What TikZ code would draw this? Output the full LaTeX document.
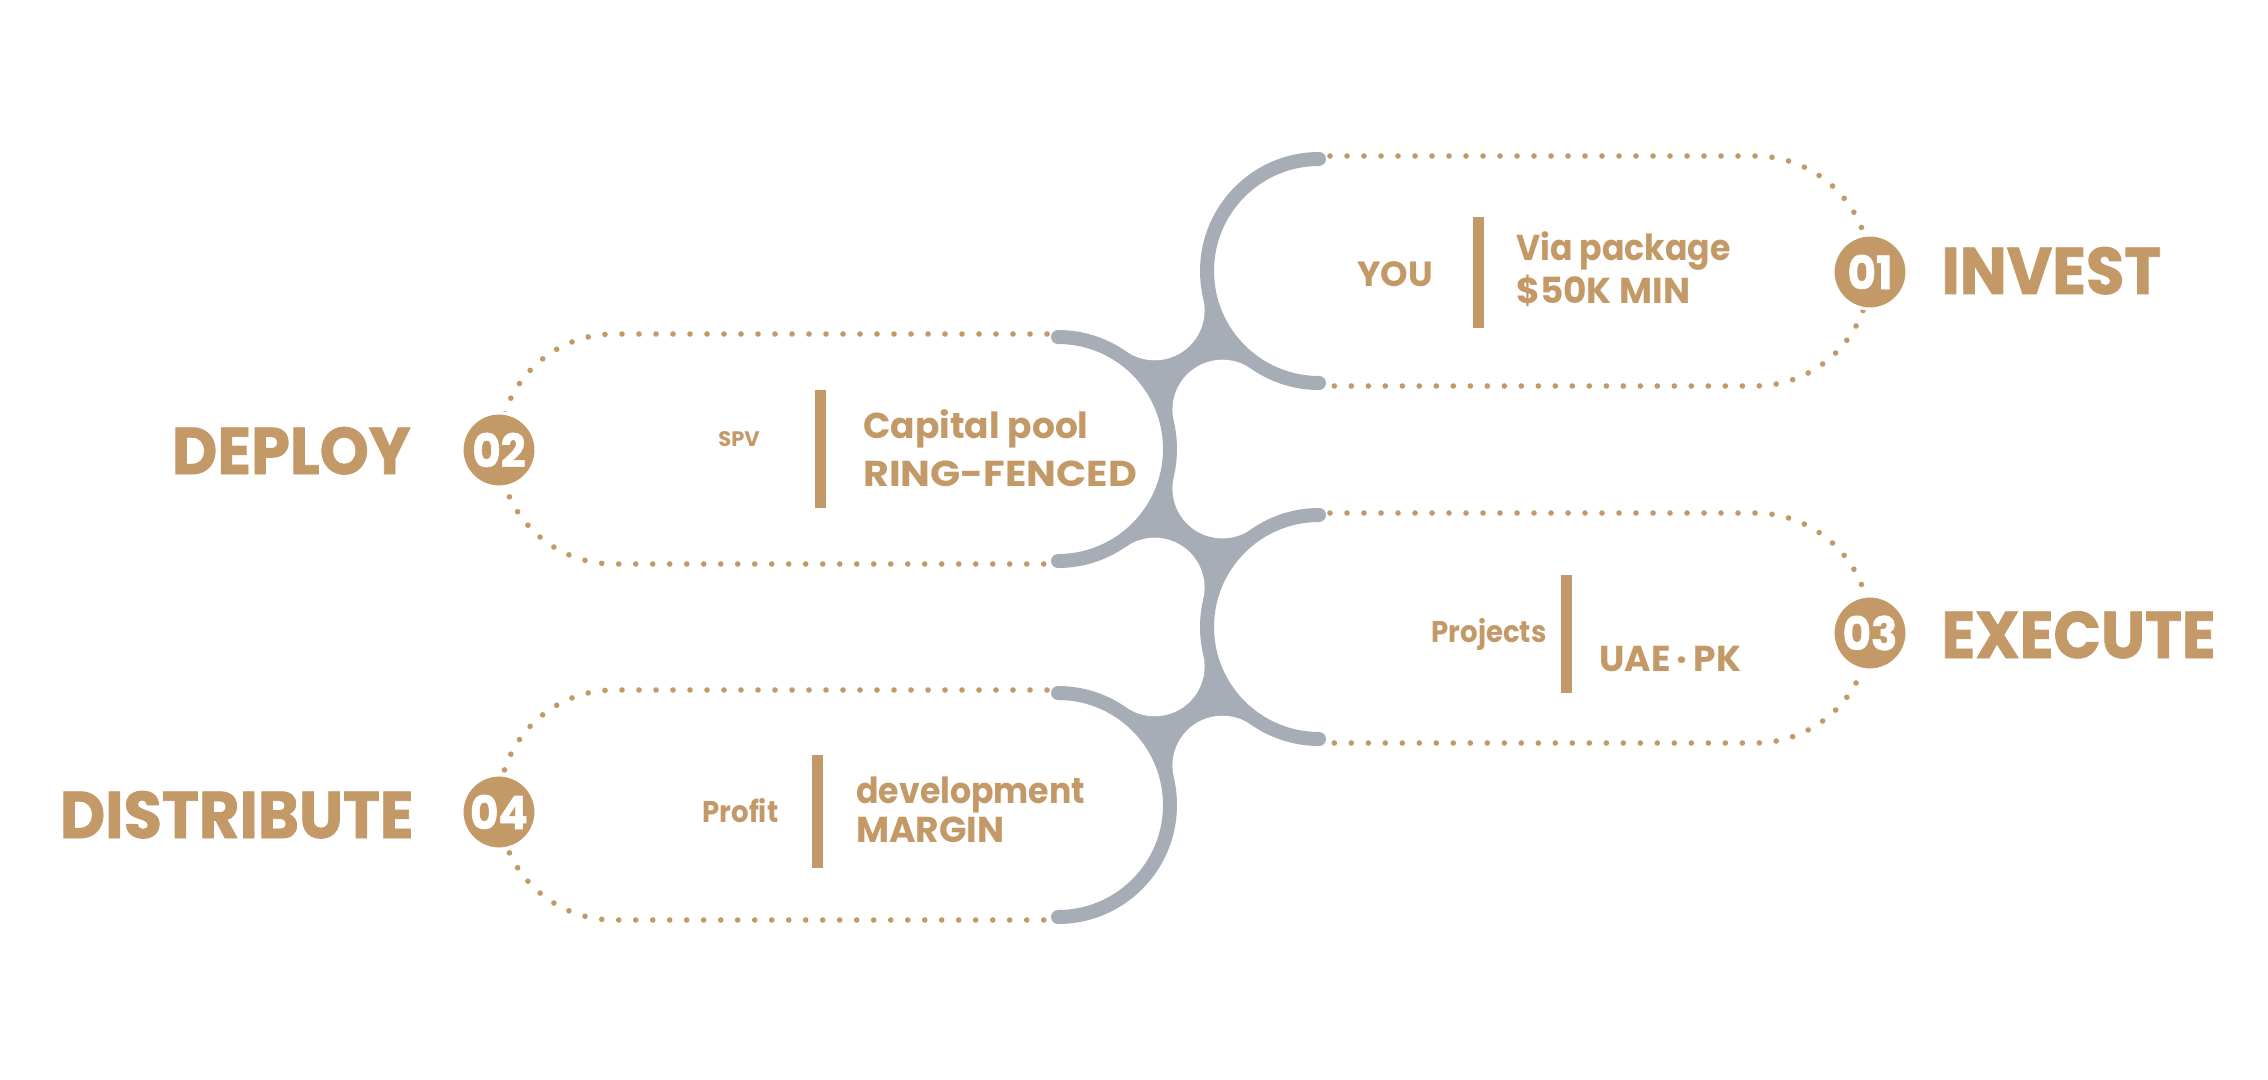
\documentclass[tikz,border=0pt]{standalone}
\usepackage{fontspec}
\setmainfont{Poppins}
\newfontfamily\headfont{Poppins}[FakeStretch=0.945, FakeBold=1.2]
\newfontfamily\narrowfont{Poppins}[FakeStretch=0.92]
\newfontfamily\widefont{Poppins}[FakeStretch=1.1]
\usetikzlibrary{calc}
\definecolor{tan}{HTML}{C49968}
\definecolor{steel}{HTML}{A7ADB6}
\tikzset{
  dots/.style={draw=tan, line width=2.8pt, line cap=round, dash pattern=on 0pt off 8.5pt},
  band/.style={draw=steel, line width=7pt, line cap=round},
  neck/.style={fill=steel},
  hole/.style={fill=white},
  numc/.style={circle, fill=tan, draw=white, line width=1.5pt, minimum size=37pt, inner sep=0pt, text=white, font=\headfont\bfseries\fontsize{23}{23}\selectfont},
  head/.style={text=tan, inner sep=0pt, anchor=base west, font=\headfont\bfseries\fontsize{33}{33}\selectfont},
  headr/.style={head, anchor=base east},
  body/.style={text=tan, inner sep=0pt, anchor=base west, font=\bfseries\fontsize{18}{18}\selectfont},
  narrowbody/.style={body, font=\narrowfont\bfseries\fontsize{18}{18}\selectfont},
  widebody/.style={body, font=\widefont\bfseries\fontsize{18}{18}\selectfont},
  label/.style={body, font=\narrowfont\bfseries\fontsize{15}{15}\selectfont},
  tiny/.style={body, font=\bfseries\fontsize{10.5}{10.5}\selectfont},
  sepbar/.style={fill=tan},
}
\begin{document}
\begin{tikzpicture}[x=0.5pt,y=-0.5pt]
\useasboundingbox[fill=white] (0,0) rectangle (2268,1080);
% circle centres of the grey chain
\coordinate (C1) at (1319,271);
\coordinate (C2) at (1058,449);
\coordinate (C3) at (1319,627);
\coordinate (C4) at (1058,805);
% fillet centres
\coordinate (FA1) at (1154.6,310.3);
\coordinate (FA2) at (1222.4,409.7);
\coordinate (FB1) at (1222.4,488.4);
\coordinate (FB2) at (1154.6,587.7);
\coordinate (FC1) at (1154.6,666.3);
\coordinate (FC2) at (1222.4,765.7);
\def\k{0.70414}
% necks
\fill[neck] ($(C1)!\k!(FA1)$) -- ($(C2)!\k!(FA1)$) -- ($(C2)!\k!(FA2)$) -- ($(C1)!\k!(FA2)$) -- cycle;
\fill[neck] ($(C2)!\k!(FB1)$) -- ($(C3)!\k!(FB1)$) -- ($(C3)!\k!(FB2)$) -- ($(C2)!\k!(FB2)$) -- cycle;
\fill[neck] ($(C3)!\k!(FC1)$) -- ($(C4)!\k!(FC1)$) -- ($(C4)!\k!(FC2)$) -- ($(C3)!\k!(FC2)$) -- cycle;
\foreach \f in {FA1,FA2,FB1,FB2,FC1,FC2} \fill[hole] (\f) circle[radius=50];
% bands
\draw[band] ($(C1)+(0,-112)$) arc[start angle=-90, end angle=-270, radius=112];
\draw[band] ($(C2)+(0,-112)$) arc[start angle=-90, end angle=90, radius=112];
\draw[band] ($(C3)+(0,-112)$) arc[start angle=-90, end angle=-270, radius=112];
\draw[band] ($(C4)+(0,-112)$) arc[start angle=-90, end angle=90, radius=112];
% dotted outlines
\draw[dots] (1330,156) -- (1755,156) arc[start angle=-90, end angle=90, radius=115] -- (1330,386);
\draw[dots] (1047,334) -- (614,334) arc[start angle=-90, end angle=-270, radius=115] -- (1047,564);
\draw[dots] (1330,513) -- (1755,513) arc[start angle=-90, end angle=90, radius=115] -- (1330,743);
\draw[dots] (1047,690) -- (614,690) arc[start angle=-90, end angle=-270, radius=115] -- (1047,920);
% separator bars
\fill[sepbar] (1473,217) rectangle (1484,328);
\fill[sepbar] (815,390) rectangle (826,508);
\fill[sepbar] (1561,575) rectangle (1572,693);
\fill[sepbar] (812,755) rectangle (823,868);
% step 01
\node[numc] (n1) at (1870,272) {01};
\node[head] (h1) at (1941,294) {INVEST};
\node[body, font=\bfseries\fontsize{17.5}{17.5}\selectfont] (y1) at (1357,287) {YOU};
\node[narrowbody] (a1) at (1516,261) {Via package};
\node[body] (b1) at (1516,304) {\$50K MIN};
% step 02
\node[numc] (n2) at (499,450) {02};
\node[headr] (h2) at (411,474) {DEPLOY};
\node[tiny] (y2) at (718,446) {SPV};
\node[body] (a2) at (863,438) {Capital pool};
\node[widebody] (b2) at (863,486) {RING-FENCED};
% step 03
\node[numc] (n3) at (1870,633) {03};
\node[head] (h3) at (1941,658) {EXECUTE};
\node[label] (y3) at (1431,642) {Projects};
\node[body] (b3) at (1599,671) {UAE\,·\,PK};
% step 04
\node[numc] (n4) at (499,812) {04};
\node[headr] (h4) at (414,838) {DISTRIBUTE};
\node[label] (y4) at (702,822) {Profit};
\node[narrowbody] (a4) at (856,803) {development};
\node[body] (b4) at (856,842) {MARGIN};
\end{tikzpicture}
\end{document}
